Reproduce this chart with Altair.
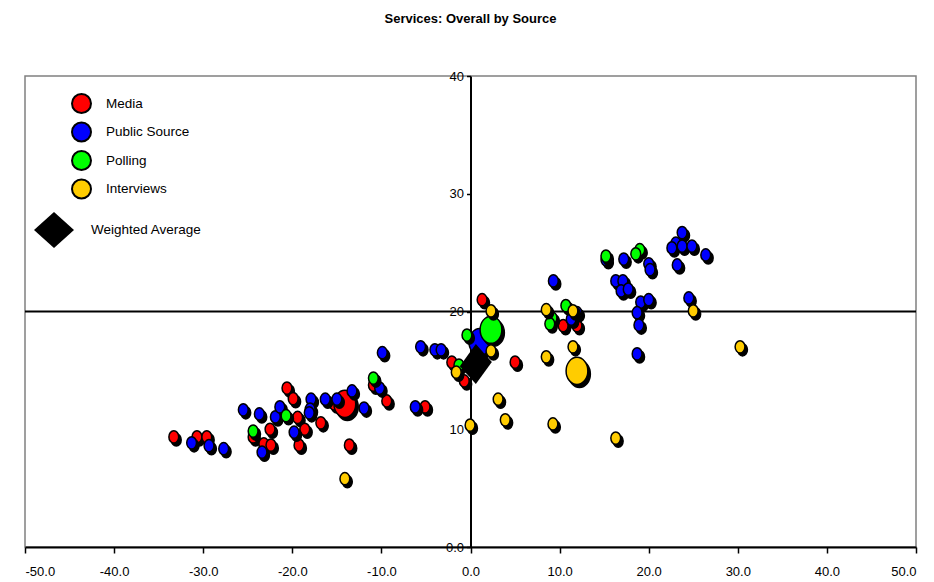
import altair as alt
import pandas as pd

FONT = "Liberation Sans"

sources = ["Media", "Public Source", "Polling", "Interviews"]
colors = ["#FF0000", "#0000FF", "#00FF00", "#FFCC00"]

media_x = [-33.3, -30.7, -29.6, -20.6, -19.9, -19.4, -22.5, -24.4, -23.2, -22.4, -19.25, -18.6,
           -16.8, -15.3, -13.6, -10.9, -9.4, -5.1, -2.1, -0.7, 1.3, 5.0, 10.4, 11.95]
media_y = [9.35, 9.35, 9.35, 13.5, 12.6, 11.0, 10.0, 9.35, 8.75, 8.65, 8.65, 10.0,
           10.55, 12.15, 8.65, 13.75, 12.4, 11.9, 15.7, 14.1, 21.0, 15.7, 18.8, 18.8]

public_x = [-31.3, -29.35, -27.7, -25.5, -23.7, -21.9, -21.4, -23.4, -19.8, -17.9, -18.0, -18.1,
            -16.3, -15.0, -13.3, -11.95, -10.2, -9.9, -5.6, -4.0, -3.3, -6.2, 9.3, 11.3,
            11.95, 15.2, 17.2, 20.0, 20.15, 16.3, 17.1, 16.9, 17.7, 19.1, 20.0, 18.7,
            18.9, 18.7, 23.75, 23.05, 23.75, 24.85, 22.6, 26.4, 23.2, 24.5]
public_y = [8.85, 8.6, 8.35, 11.65, 11.3, 11.05, 11.9, 8.05, 9.75, 12.55, 11.7, 11.4,
            12.55, 12.55, 13.25, 11.8, 13.5, 16.5, 17.0, 16.75, 16.75, 11.9, 22.6, 19.35,
            19.9, 24.4, 24.45, 24.05, 23.55, 22.6, 22.6, 21.75, 21.9, 20.8, 21.0, 19.9,
            18.85, 16.4, 26.7, 25.8, 25.55, 25.55, 25.4, 24.8, 23.95, 21.15]

polling_x = [-24.4, -20.7, -10.9, -1.3, -0.4, 9.15, 8.9, 10.7, 15.2, 19.0, 18.55]
polling_y = [9.85, 11.15, 14.35, 15.45, 18.0, 19.45, 18.95, 20.5, 24.7, 25.25, 24.9]

interviews_x = [-14.1, -1.6, -0.05, 2.3, 2.3, 3.1, 3.9, 8.5, 8.5, 11.5, 11.5, 9.25, 16.3, 25.0, 30.25]
interviews_y = [5.8, 14.85, 10.35, 20.05, 16.65, 12.55, 10.8, 20.15, 16.15, 20.05, 17.0, 10.45, 9.25, 20.05, 17.0]

avg_x = [-14.1, 1.05, 2.3, 11.95]
avg_y = [12.15, 17.4, 18.45, 14.95]

weighted_x = [0.6]
weighted_y = [15.55]

x_ticks = [-50, -40, -30, -20, -10, 0, 10, 20, 30, 40, 50]
y_ticks = [0, 10, 20, 30, 40]

series_xy = {
    "Media": (media_x, media_y),
    "Public Source": (public_x, public_y),
    "Polling": (polling_x, polling_y),
    "Interviews": (interviews_x, interviews_y),
}

rows = []
for i, s in enumerate(sources):
    xs, ys = series_xy[s]
    for xv, yv in zip(xs, ys):
        rows.append({"source": s, "x": xv, "y": yv, "big": 0})
    rows.append({"source": s, "x": avg_x[i], "y": avg_y[i], "big": 1})
df = pd.DataFrame(rows)

wdf = pd.DataFrame({"x": weighted_x, "y": weighted_y, "label": ["Weighted Average"]})

ELLIPSE = "M0,-1A0.8,1,0,1,1,0,1A0.8,1,0,1,1,0,-1Z"
DIAMOND = "M0,-1L0.8,-0.1L0,1L-0.8,0.12Z"
LEG_DIAMOND = "M0,-0.9L1,0L0,0.9L-1,0Z"

W, H = 891, 471

xenc = alt.X("x:Q", scale=alt.Scale(domain=[-50, 50], nice=False),
             axis=alt.Axis(values=x_ticks, title=None, grid=False,
                           labelExpr="(datum.value < 0 ? '-' : '') + format(abs(datum.value), '.1f')",
                           domainColor="black", domainWidth=2, tickColor="black",
                           tickWidth=1.5, tickSize=6, labelPadding=12, labelFontSize=13,
                           labelColor="black", zindex=0))
yenc = alt.Y("y:Q", scale=alt.Scale(domain=[0, 40], nice=False),
             axis=alt.Axis(values=y_ticks, title=None, grid=False, offset=-W / 2,
                           labelExpr="datum.value === 0 ? '0.0' : format(datum.value, 'd')",
                           domainColor="black", domainWidth=2, tickColor="black",
                           tickWidth=1.5, tickSize=4, labelPadding=3, labelFontSize=13,
                           labelColor="black", zindex=0))

size_enc = alt.Size("big:N", scale=alt.Scale(domain=[0, 1], range=[150, 740]), legend=None)
color_enc = alt.Color("source:N", scale=alt.Scale(domain=sources, range=colors),
                      legend=alt.Legend(title=None, orient="none", legendX=46, legendY=17,
                                        symbolType="circle", symbolSize=361,
                                        symbolStrokeColor="black", symbolStrokeWidth=2,
                                        labelFontSize=13.5, labelOffset=14, rowPadding=1.5,
                                        padding=0, labelColor="black"))

base = alt.Chart(df)

rule20 = alt.Chart(pd.DataFrame({"y": [20]})).mark_rule(color="black", strokeWidth=2).encode(
    y=alt.Y("y:Q", scale=alt.Scale(domain=[0, 40], nice=False)))

layers = [rule20]
for s in sources:
    sub = base.transform_filter(alt.datum.source == s)
    shadow = sub.mark_point(shape=ELLIPSE, filled=True, color="black", opacity=1,
                            xOffset=2.5, yOffset=3, stroke="black", strokeWidth=1.5).encode(
        x=xenc, y=yenc, size=size_enc)
    marker = sub.mark_point(shape=ELLIPSE, filled=True, opacity=1, stroke="black",
                            strokeWidth=1.5).encode(
        x=xenc, y=yenc, size=size_enc, color=color_enc)
    layers += [shadow, marker]

diamond = alt.Chart(wdf).mark_point(shape=DIAMOND, filled=True, size=1600, opacity=1,
                                    strokeWidth=0).encode(
    x=xenc, y=yenc,
    fill=alt.Fill("label:N", scale=alt.Scale(domain=["Weighted Average"], range=["black"]),
                  legend=alt.Legend(title=None, orient="none", legendX=9, legendY=134,
                                    symbolType=LEG_DIAMOND, symbolSize=1600,
                                    symbolStrokeWidth=0, labelFontSize=13.5, labelOffset=17,
                                    padding=0, labelColor="black")))
layers.append(diamond)

chart = alt.layer(*layers).properties(
    width=W, height=H,
    autosize=alt.AutoSizeParams(type="none"),
    padding={"left": 17, "top": 68, "right": 10, "bottom": 30},
    title=alt.TitleParams("Services: Overall by Source", anchor="middle", frame="group",
                          offset=44, fontSize=13, fontWeight="bold", font=FONT, color="black"),
).configure_view(stroke="#808080", strokeWidth=1.5).configure_axis(
    labelFont=FONT).configure_legend(labelFont=FONT)

chart.save("out.html", embed_options={"renderer": "svg", "actions": False})
